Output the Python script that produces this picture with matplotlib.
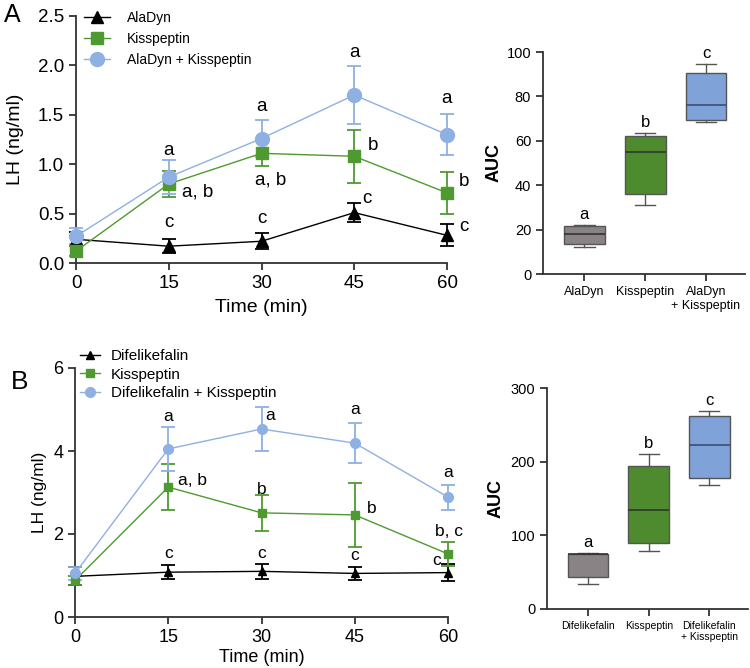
import matplotlib
matplotlib.use('Agg')
import matplotlib.pyplot as plt

plt.rcParams['font.family'] = ['Liberation Sans', 'DejaVu Sans']

# ---------------- data ----------------
time = [0, 15, 30, 45, 60]

# Panel A (line)
a_names = ['AlaDyn', 'Kisspeptin', 'AlaDyn + Kisspeptin']
a_aladyn = [0.24, 0.17, 0.22, 0.51, 0.28]
a_aladyn_err = [0.07, 0.07, 0.08, 0.10, 0.11]
a_kiss = [0.12, 0.80, 1.11, 1.08, 0.71]
a_kiss_err = [0.05, 0.13, 0.13, 0.27, 0.21]
a_combo = [0.27, 0.87, 1.26, 1.70, 1.30]
a_combo_err = [0.08, 0.17, 0.19, 0.29, 0.21]

# Panel A (AUC box) : whislo, q1, med, q3, whishi
a_auc_labels = ['AlaDyn', 'Kisspeptin', 'AlaDyn\n+ Kisspeptin']
a_auc_whislo = [12.3, 31.0, 68.5]
a_auc_q1 = [13.5, 36.0, 69.5]
a_auc_med = [18.0, 55.0, 76.0]
a_auc_q3 = [21.5, 62.0, 90.5]
a_auc_whishi = [22.0, 63.5, 94.5]
a_auc_letters = ['a', 'b', 'c']

# Panel B (line)
b_names = ['Difelikefalin', 'Kisspeptin', 'Difelikefalin + Kisspeptin']
b_dife = [0.98, 1.08, 1.10, 1.05, 1.07]
b_dife_err = [0.22, 0.17, 0.18, 0.15, 0.20]
b_kiss = [0.88, 3.13, 2.51, 2.46, 1.52]
b_kiss_err = [0.12, 0.55, 0.43, 0.77, 0.29]
b_combo = [1.05, 4.05, 4.53, 4.19, 2.89]
b_combo_err = [0.15, 0.53, 0.52, 0.48, 0.30]

# Panel B (AUC box)
b_auc_labels = ['Difelikefalin', 'Kisspeptin', 'Difelikefalin\n+ Kisspeptin']
b_auc_whislo = [34.0, 79.0, 168.0]
b_auc_q1 = [44.0, 89.5, 178.0]
b_auc_med = [74.0, 134.0, 222.0]
b_auc_q3 = [75.0, 194.0, 262.0]
b_auc_whishi = [76.0, 210.0, 269.0]
b_auc_letters = ['a', 'b', 'c']

# significance letters on line plots: (time, y, text, ha)
a_letters = [(15, 1.14, 'a', 'center'), (19.7, 0.72, 'a, b', 'center'), (15, 0.41, 'c', 'center'),
             (30, 1.58, 'a', 'center'), (31.4, 0.84, 'a, b', 'center'), (30, 0.45, 'c', 'center'),
             (45, 2.13, 'a', 'center'), (48.1, 1.19, 'b', 'center'), (47.1, 0.65, 'c', 'center'),
             (60, 1.66, 'a', 'center'), (62.8, 0.82, 'b', 'center'), (62.8, 0.37, 'c', 'center')]
b_letters = [(15, 4.84, 'a', 'center'), (16.6, 3.3, 'a, b', 'left'), (15, 1.54, 'c', 'center'),
             (31.4, 4.85, 'a', 'center'), (30, 3.08, 'b', 'center'), (30, 1.54, 'c', 'center'),
             (45, 5.0, 'a', 'center'), (47.7, 2.62, 'b', 'center'), (45, 1.47, 'c', 'center'),
             (60, 3.47, 'a', 'center'), (60.2, 2.05, 'b, c', 'center'), (58.2, 1.35, 'c', 'center')]

# ---------------- style ----------------
c_black = '#000000'
c_green = '#4f9a30'
c_blue = '#8fb0e2'
box_cols = ['#8a8386', '#4e8b2e', '#7fa3d8']
spine_col = '#333333'

W, H = 750, 668
fig = plt.figure(figsize=(W / 100, H / 100), dpi=100)


def ax_px(l, r, t, b):
    return fig.add_axes([l / W, 1 - b / H, (r - l) / W, (b - t) / H])


def style_axes(ax, lw=1.3):
    for s in ['top', 'right']:
        ax.spines[s].set_visible(False)
    for s in ['left', 'bottom']:
        ax.spines[s].set_linewidth(lw)
        ax.spines[s].set_color(spine_col)
    ax.tick_params(direction='out', length=5, width=lw, color=spine_col)


def line_panel(ax, series, errs, colors, markers, msizes, names, fs_tick, fs_let, letters, ylim, yticks, yfmt):
    for y, e, c, m, ms, n in zip(series, errs, colors, markers, msizes, names):
        ax.errorbar(time, y, yerr=e, color=c, fmt='none', elinewidth=1.3, capsize=5, capthick=1.3,
                    clip_on=False, zorder=3)
        ax.plot(time, y, color=c, marker=m, markersize=ms, linewidth=1.0, label=n, clip_on=False, zorder=4)
    ax.set_xlim(0, 60)
    ax.set_ylim(*ylim)
    ax.set_xticks(time)
    ax.set_yticks(yticks)
    ax.set_yticklabels([yfmt.format(v) for v in yticks])
    ax.tick_params(labelsize=fs_tick)
    style_axes(ax)
    for x, y, t, ha in letters:
        ax.text(x, y, t, ha=ha, va='center', fontsize=fs_let)


def box_panel(ax, labels, wlo, q1, med, q3, whi, letters, ylim, yticks, fs_tick, fs_cat, fs_let, fs_lab, letter_pad):
    stats = []
    for i in range(len(labels)):
        stats.append(dict(label=labels[i], whislo=wlo[i], q1=q1[i], med=med[i], q3=q3[i], whishi=whi[i], fliers=[]))
    bp = ax.bxp(stats, positions=[1, 2, 3], widths=0.67, patch_artist=True, showfliers=False,
                medianprops=dict(color='#2a3a2a', linewidth=1.2),
                whiskerprops=dict(color='#555555', linewidth=1.0),
                capprops=dict(color='#555555', linewidth=1.0),
                boxprops=dict(linewidth=1.0))
    for patch, c in zip(bp['boxes'], box_cols):
        patch.set_facecolor(c)
        patch.set_edgecolor('#555555')
    bp['medians'][0].set_color('#333333')
    bp['medians'][2].set_color('#3a4f70')
    ax.set_xlim(0.32, 3.64)
    ax.set_ylim(*ylim)
    ax.set_yticks(yticks)
    ax.tick_params(axis='y', labelsize=fs_tick)
    ax.tick_params(axis='x', labelsize=fs_cat)
    style_axes(ax)
    for i, t in enumerate(letters):
        ax.text(i + 1, whi[i] + letter_pad, t, ha='center', va='bottom', fontsize=fs_let)
    ax.set_ylabel('AUC', fontsize=fs_lab, fontweight='bold')


# ---------- Panel A ----------
axA = ax_px(76, 447, 16, 263)
line_panel(axA, [a_aladyn, a_kiss, a_combo], [a_aladyn_err, a_kiss_err, a_combo_err],
           [c_black, c_green, c_blue], ['^', 's', 'o'], [8, 8, 10], a_names,
           13.5, 13.5, a_letters, (0, 2.5), [0, 0.5, 1.0, 1.5, 2.0, 2.5], '{:.1f}')
axA.set_ylabel('LH (ng/ml)', fontsize=14)
axA.yaxis.set_label_coords(-0.14, 0.5)
axA.set_xlabel('Time (min)', fontsize=14)
axA.xaxis.set_label_coords(0.5, -0.146)
axA.legend(loc='upper left', bbox_to_anchor=(84 / W, 1 - 11 / H), bbox_transform=fig.transFigure,
           frameon=False, fontsize=10, handlelength=1.9, handletextpad=1.2, labelspacing=0.5,
           borderpad=0, borderaxespad=0)
fig.text(4 / W, 1 - 3 / H, 'A', fontsize=18, ha='left', va='top')

axAb = ax_px(543, 745, 52, 274)
box_panel(axAb, a_auc_labels, a_auc_whislo, a_auc_q1, a_auc_med, a_auc_q3, a_auc_whishi,
          a_auc_letters, (0, 100), [0, 20, 40, 60, 80, 100], 10.5, 9, 12, 13, 1.5)
axAb.yaxis.set_label_coords(-0.198, 0.5)

# ---------- Panel B ----------
axB = ax_px(75, 448, 368, 617)
line_panel(axB, [b_dife, b_kiss, b_combo], [b_dife_err, b_kiss_err, b_combo_err],
           [c_black, c_green, c_blue], ['^', 's', 'o'], [6, 6, 7], b_names,
           13, 12.5, b_letters, (0, 6), [0, 2, 4, 6], '{:d}')
axB.set_ylabel('LH (ng/ml)', fontsize=12.5)
axB.yaxis.set_label_coords(-0.075, 0.5)
axB.set_xlabel('Time (min)', fontsize=13)
axB.xaxis.set_label_coords(0.5, -0.13)
axB.legend(loc='upper left', bbox_to_anchor=(80 / W, 1 - 349 / H), bbox_transform=fig.transFigure,
           frameon=False, fontsize=11, handlelength=1.3, handletextpad=0.7, labelspacing=0.3,
           borderpad=0, borderaxespad=0)
fig.text(20 / W, 1 - 382 / H, 'B', fontsize=19, ha='center', va='center')

axBb = ax_px(547, 748, 388, 609)
box_panel(axBb, b_auc_labels, b_auc_whislo, b_auc_q1, b_auc_med, b_auc_q3, b_auc_whishi,
          b_auc_letters, (0, 300), [0, 100, 200, 300], 10.5, 7.5, 12, 13, 4)
axBb.yaxis.set_label_coords(-0.209, 0.5)

fig.savefig('out.png', dpi=100)
